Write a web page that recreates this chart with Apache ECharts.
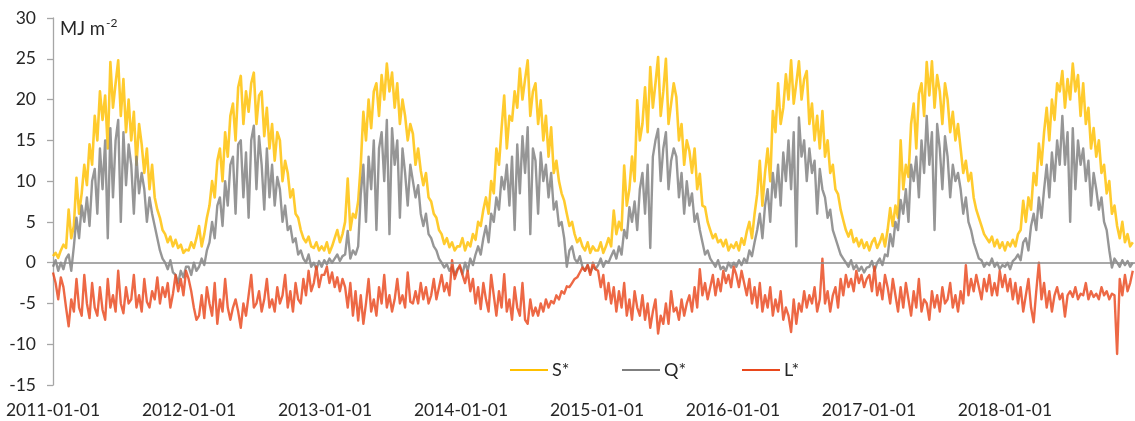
<!DOCTYPE html>
<html>
<head>
<meta charset="utf-8">
<script src="https://cdn.jsdelivr.net/npm/echarts@6/dist/echarts.min.js"></script>
<style>
  html, body { margin: 0; padding: 0; background: #ffffff; }
  #chart { width: 1135px; height: 421px; }
</style>
</head>
<body>
<div id="chart"></div>
<script>
// Weekly radiation balance components (MJ m-2), starting 2011-01-01, one value every 7 days.
const START_YEAR = 2011;
const STEP_DAYS = 7;
const X_MAX_DAYS = 2904;
const Y_TICKS = { min: -15, max: 30, step: 5 };
const SERIES_NAMES = ['S*', 'Q*', 'L*'];

// S* : net shortwave radiation
const sStar = [
  // 2011
  0.8, 1.2, 0.6, 1.5, 2.2, 1.8, 6.5, 3.0, 4.5, 10.4, 6.0, 8.5, 12.0, 9.5, 14.5, 12.0, 18.0,
  15.0, 21.0, 17.5, 20.5, 14.0, 24.6, 19.0, 22.0, 24.8, 18.0, 22.5, 16.0, 20.0,
  15.0, 18.5, 12.0, 17.0, 14.5, 11.0, 14.0, 9.0, 12.0, 8.0, 6.5, 5.5, 4.0,
  3.5, 2.5, 3.2, 2.0, 2.8, 1.8, 2.2, 1.2, 1.6,
  // 2012
  1.5, 2.5, 1.8, 3.0, 4.5, 2.0, 3.5, 5.5, 7.0, 10.0, 8.0, 12.5, 14.0, 10.0, 16.0, 13.0, 18.0,
  19.5, 15.0, 21.5, 22.9, 17.0, 21.0, 18.5, 22.0, 23.3, 17.0, 20.5, 21.0, 15.5,
  19.0, 14.0, 17.0, 12.5, 16.0, 15.0, 10.0, 12.5, 11.0, 8.0, 9.0, 6.0, 5.5,
  4.0, 3.0, 2.5, 3.2, 2.0, 1.8, 2.5, 1.5, 2.0,
  // 2013
  1.5, 2.5, 1.2, 2.0, 3.0, 4.0, 2.5, 3.5, 5.0, 10.3, 4.0, 6.0, 5.5, 7.5, 12.0, 18.5, 15.0,
  20.0, 16.5, 21.0, 22.0, 18.0, 23.0, 20.0, 24.4, 21.0, 23.3, 19.0, 22.0, 17.0,
  20.0, 18.0, 15.0, 17.0, 15.8, 12.0, 14.0, 11.3, 9.5, 11.0, 8.0, 7.5, 6.0,
  5.5, 4.0, 3.5, 2.3, 3.0, 1.9, 2.5, 1.5, 2.0,
  // 2014
  2.0, 3.0, 1.5, 2.5, 2.0, 3.5, 2.8, 5.0, 4.5, 6.5, 8.0, 6.0, 10.0, 8.5, 14.0, 12.0, 16.5,
  20.5, 14.0, 18.0, 17.4, 21.0, 19.0, 23.8, 20.0, 22.5, 24.8, 18.0, 21.0, 22.0,
  17.0, 19.9, 15.0, 18.0, 13.0, 16.6, 11.0, 12.5, 10.0, 8.5, 7.6, 6.0, 4.5,
  5.0, 3.5, 2.5, 3.0, 2.0, 1.5, 2.5, 1.2, 2.0, 1.5,
  // 2015
  1.5, 2.5, 1.2, 2.0, 3.0, 2.0, 6.4, 3.5, 5.0, 4.0, 11.9, 7.0, 9.0, 13.0, 10.0, 19.9, 15.0,
  17.0, 21.5, 16.0, 24.0, 19.0, 22.0, 25.2, 18.0, 21.0, 25.0, 17.0, 19.5, 22.0,
  20.3, 15.0, 17.0, 12.0, 15.0, 13.7, 11.0, 14.0, 9.0, 10.9, 7.0, 6.8, 5.0,
  4.0, 3.0, 3.5, 2.5, 2.8, 2.0, 2.8, 1.5, 2.2,
  // 2016
  1.8, 2.5, 1.5, 3.0, 2.2, 3.8, 5.0, 3.0, 6.0, 8.4, 12.5, 7.0, 11.0, 14.0, 10.0, 18.6, 16.0,
  22.0, 17.0, 19.0, 23.1, 20.0, 24.8, 19.5, 22.0, 24.7, 20.0, 22.5, 23.5, 17.0,
  19.5, 15.0, 18.0, 14.0, 18.6, 13.0, 15.0, 11.0, 12.0, 9.0, 8.4, 6.5, 5.2,
  4.0, 3.2, 4.0, 2.5, 3.0, 2.0, 2.8, 1.8, 2.5,
  // 2017
  1.5, 2.5, 3.0, 1.8, 2.5, 3.5, 2.0, 4.0, 6.7, 4.5, 7.0, 5.5, 15.0, 9.0, 12.0, 10.5, 17.0,
  19.5, 14.0, 20.7, 22.0, 18.0, 24.6, 20.5, 24.7, 19.0, 23.0, 21.0, 17.0, 22.0,
  20.0, 16.0, 18.5, 15.0, 17.0, 14.0, 11.0, 12.5, 10.0, 11.0, 8.0, 6.5, 5.5,
  4.5, 3.5, 3.0, 2.5, 3.2, 2.0, 2.8, 1.8, 2.5,
  // 2018
  1.5, 2.5, 2.0, 2.8, 2.0, 3.5, 4.0, 7.6, 5.0, 8.0, 6.5, 11.0, 9.5, 14.6, 12.0, 16.0, 19.0,
  15.0, 20.0, 17.5, 22.0, 21.0, 23.5, 19.0, 22.5, 20.0, 24.4, 21.0, 23.0, 18.0,
  22.0, 17.0, 19.0, 14.0, 16.5, 13.0, 15.0, 11.0, 12.0, 8.5, 10.0, 6.0, 7.0,
  4.5, 3.0, 5.0, 2.5, 3.5, 2.0, 2.5
];

// Q* : net all-wave radiation
const qStar = [
  // 2011
  -0.5, 0.3, -1.0, 0.0, -0.8, 0.5, 1.0, -1.0, 2.0, 5.5, 3.0, 7.0, 5.0, 8.0, 4.5, 10.0, 11.5,
  6.0, 14.0, 9.0, 15.0, 3.0, 16.5, 8.0, 15.0, 17.5, 5.0, 16.0, 9.5, 14.5,
  12.0, 6.0, 13.0, 8.5, 11.0, 9.0, 5.0, 8.0, 6.0, 4.5, 3.0, 1.5, 0.5,
  0.0, -0.8, 0.3, -1.2, -1.5, -2.5, -1.0, -1.8, -0.5,
  // 2012
  -0.5, -1.5, 0.0, -1.0, -0.5, 0.5, -0.3, 1.5, 2.5, 5.0, 3.0, 7.0, 8.0, 4.5, 10.0, 7.0, 12.0,
  13.0, 6.0, 14.5, 15.0, 8.0, 13.5, 5.5, 15.0, 16.8, 9.0, 15.5, 12.0, 6.5,
  14.0, 8.0, 12.0, 7.0, 10.5, 9.0, 5.0, 7.0, 4.0, 4.5, 2.5, 3.0, 1.0,
  1.5, 0.5, 0.0, 1.0, -0.5, 0.0, -0.8, 0.2, -0.5,
  // 2013
  0.3, -0.2, 0.5, 0.0, 0.5, 1.0, 0.2, 0.8, 1.0, 3.9, 0.5, 1.5, 1.0, 2.0, 8.4, 12.0, 5.0,
  13.0, 9.0, 15.0, 4.0, 14.0, 16.0, 10.0, 17.5, 3.5, 16.5, 12.0, 15.0, 5.5,
  14.0, 11.0, 7.0, 12.0, 10.0, 8.0, 9.5, 6.0, 4.5, 6.0, 3.5, 3.0, 2.0,
  1.5, 0.5, 0.0, -0.6, -0.2, -1.0, -0.5, -1.5, -0.8,
  // 2014
  -0.5, -1.4, 0.0, -1.0, 0.5, -0.3, 1.0, 2.0, 1.0, 3.0, 4.5, 2.5, 6.0, 5.0, 8.0, 6.5, 10.5,
  9.0, 12.0, 7.0, 13.0, 4.0, 14.5, 8.5, 15.5, 11.0, 16.6, 3.5, 14.0, 12.5,
  6.0, 13.5, 10.0, 12.0, 8.0, 11.0, 6.5, 7.5, 4.5, 5.0, 3.0, -0.5, 1.5,
  2.0, 0.5, 0.0, 0.8, -0.5, -1.0, -0.3, -1.2, -0.5, -0.8,
  // 2015
  -0.3, 0.5, -0.5, 0.2, 0.0, 0.8, 1.5, 0.5, 2.0, 1.0, 4.0, 3.0, 6.8, 5.0, 7.5, 4.0, 9.0,
  11.0, 6.0, 12.0, 1.8, 13.0, 15.0, 16.4, 10.0, 14.0, 16.0, 9.0, 12.5, 14.0,
  13.0, 8.0, 11.0, 6.0, 10.0, 7.0, 8.5, 5.0, 6.0, 4.0, 2.5, 1.0, 1.5,
  0.5, 0.0, -0.5, 0.3, -0.8, -0.5, -1.0, 0.0, -0.6,
  // 2016
  0.0, -0.5, 0.3, -0.3, 0.5, 0.0, 1.5, 0.8, 2.5, 4.0, 6.0, 3.0, 7.0, 9.0, 5.0, 11.0, 8.0,
  12.0, 7.0, 13.5, 10.0, 15.0, 9.0, 16.0, 2.0, 17.8, 13.0, 15.0, 10.0, 14.0,
  11.0, 12.5, 6.0, 11.5, 9.0, 8.0, 5.5, 6.5, 4.0, 3.0, 2.0, 1.0, 0.5,
  0.0, -0.5, 0.3, -0.8, -0.3, -1.0, -0.5, -1.2, -0.6,
  // 2017
  -0.5, 0.2, -1.0, 0.0, 0.5, -0.3, 1.0, 0.8, 3.5, 2.0, 5.0, 4.0, 7.7, 6.0, 9.0, 5.0, 12.0,
  10.0, 13.0, 8.0, 15.0, 11.0, 18.0, 12.0, 16.0, 4.0, 17.0, 14.0, 9.0, 15.5,
  13.0, 8.0, 12.0, 10.0, 11.0, 9.0, 6.0, 8.0, 5.0, 4.0, 2.5, 1.5, 0.5,
  0.3, -0.5, 0.0, -0.3, 0.5, -0.5, 0.0, -0.8, -0.3,
  // 2018
  -0.5, 0.0, -0.8, 0.2, 0.5, 1.0, 0.3, 2.5, 3.0, 1.5, 4.5, 6.0, 4.0, 8.0, 5.5, 9.0, 12.0,
  8.0, 13.5, 10.0, 15.0, 12.0, 18.0, 12.0, 16.0, 5.0, 16.5, 9.0, 15.0, 12.0,
  14.0, 10.0, 12.5, 7.0, 11.0, 9.0, 6.5, 8.0, 5.0, 4.0, 1.5, -0.6, 0.5,
  0.0, -0.5, 0.3, -0.3, 0.2, -0.5, 0.0
];

// L* : net longwave radiation
const lStar = [
  // 2011
  -1.2, -2.5, -4.5, -1.8, -3.0, -5.5, -7.8, -4.5, -6.0, -2.0, -5.5, -6.5, -1.5, -5.0, -6.8, -2.5, -5.5,
  -6.5, -3.0, -5.8, -7.0, -2.0, -5.5, -4.0, -6.0, -1.0, -5.0, -6.2, -3.0, -5.0,
  -4.5, -1.5, -5.5, -4.0, -6.0, -2.0, -4.8, -5.5, -3.5, -4.5, -1.8, -5.0, -3.0,
  -4.2, -2.5, -5.5, -3.8, -1.5, -3.5, -2.0, -4.0, -1.0,
  // 2012
  -2.0, -3.5, -5.5, -7.0, -6.5, -4.0, -6.8, -3.0, -5.0, -6.5, -2.5, -7.5, -4.5, -6.0, -2.0, -5.5, -7.0,
  -5.5, -4.5, -6.0, -8.0, -5.0, -6.5, -4.0, -1.5, -5.5, -5.0, -3.5, -6.0, -4.5,
  -2.0, -5.5, -4.5, -6.0, -3.0, -5.0, -4.0, -1.5, -5.5, -3.5, -6.0, -2.5, -4.5,
  -5.0, -2.0, -4.0, -1.0, -3.5, -2.5, -0.5, -3.0, -1.5,
  // 2013
  -1.5, -0.5, -2.5, -1.2, -3.0, -1.8, -3.5, -2.0, -3.0, -5.5, -2.5, -6.5, -3.5, -7.1, -4.0, -7.5, -5.0,
  -2.0, -6.0, -4.5, -6.5, -3.0, -5.0, -1.5, -5.5, -4.0, -6.0, -4.5, -2.0, -5.0,
  -4.0, -5.5, -1.2, -4.8, -5.0, -3.5, -5.0, -2.5, -4.5, -3.0, -5.0, -4.0, -2.0,
  -4.5, -3.0, -1.5, -3.5, -2.5, -4.0, 0.3, -2.0, -1.0,
  // 2014
  -0.3, -1.5, -2.5, -1.0, -3.5, -2.0, -5.0, -3.0, -5.7, -2.5, -4.5, -6.0, -1.5, -4.0, -6.5, -3.5, -5.5,
  -1.4, -6.0, -4.5, -7.0, -3.0, -5.5, -6.5, -2.5, -7.0, -7.5, -4.5, -6.5, -5.5,
  -6.5, -5.0, -6.0, -4.5, -5.5, -4.7, -5.0, -4.0, -4.5, -3.5, -3.8, -2.9, -3.0,
  -2.5, -2.0, -1.8, -1.2, -0.6, -1.0, -0.3, -1.5, 0.0, -0.8,
  // 2015
  -1.0, -3.0, -1.5, -4.5, -2.5, -5.0, -3.0, -6.0, -3.5, -5.5, -2.5, -6.5, -4.5, -7.0, -3.5, -5.5, -6.5,
  -4.0, -7.0, -5.0, -8.0, -6.0, -4.5, -8.7, -6.5, -7.5, -5.0, -7.5, -3.5, -6.0,
  -5.5, -7.0, -4.5, -6.5, -5.0, -4.0, -6.0, -3.0, -5.5, -0.8, -4.0, -2.5, -4.5,
  -3.0, -1.5, -4.0, -2.0, -3.5, -1.0, -2.5, -1.5, -3.0,
  // 2016
  -0.5, -1.5, -3.0, -1.0, -2.5, -4.0, -2.0, -5.0, -3.0, -5.5, -2.5, -6.0, -4.0, -5.5, -3.0, -6.5, -4.5,
  -6.0, -3.5, -7.0, -5.5, -6.5, -8.5, -4.5, -7.5, -5.0, -6.0, -3.5, -5.5, -4.0,
  -5.0, -3.0, -6.0, -4.5, 0.5, -5.0, -3.5, -6.0, -4.0, -3.0, -5.5, -2.0, -4.0,
  -1.5, -3.0, -2.0, -3.5, -1.0, -2.5, -1.5, -3.0, -2.0,
  // 2017
  -1.5, -3.5, -0.5, -4.0, -2.5, -4.5, -1.5, -3.0, -5.0, -2.0, -4.0, -6.0, -3.0, -5.5, -2.5, -4.5, -6.5,
  -3.5, -5.5, -2.0, -6.0, -4.5, -5.0, -7.0, -3.5, -5.5, -4.0, -6.0, -3.0, -5.0,
  -4.5, -2.5, -5.5, -4.0, -6.0, -3.5, -5.0, -0.3, -4.0, -2.0, -3.5, -1.5, -3.0,
  -4.5, -2.0, -3.5, -1.5, -4.0, -2.5, -4.0, -1.0, -3.0,
  // 2018
  -1.5, -3.5, -2.0, -4.5, -2.5, -5.0, -3.0, -6.0, -4.0, -2.0, -5.5, -7.3, -3.5, 0.0, -4.5, -2.5, -5.5,
  -3.5, -6.0, -4.0, -3.0, -4.5, -3.8, -6.6, -4.0, -3.5, -4.2, -3.0, -4.5, -3.8,
  -4.0, -2.5, -4.5, -3.5, -4.2, -3.8, -4.5, -3.0, -4.0, -3.5, -4.5, -3.8, -4.0,
  -11.2, -2.0, -4.0, -1.5, -3.5, -2.5, -1.0
];

const COLORS = { 'S*': '#FFC000', 'Q*': '#7F7F7F', 'L*': '#E9471C' };
const WIDTHS = { 'S*': 2.6, 'Q*': 2.4, 'L*': 2.4 };
const FONT = 'Lato, "Open Sans", sans-serif';

// Pair each value with its day offset from 1 January 2011.
function toPoints(values) {
  return values.map((v, i) => [i * STEP_DAYS, v]);
}

const chart = echarts.init(document.getElementById('chart'), null, { renderer: 'canvas' });

function lineSeries(name, values, extra) {
  return Object.assign({
    name: name,
    type: 'line',
    data: toPoints(values),
    symbol: 'none',
    showSymbol: false,
    animation: false,
    lineStyle: { color: COLORS[name], width: WIDTHS[name], opacity: 0.82, join: 'round' },
    itemStyle: { color: COLORS[name] },
    emphasis: { disabled: true }
  }, extra || {});
}

function legendAt(name, left) {
  return {
    data: [name],
    left: left,
    top: 356,
    itemWidth: 38,
    itemHeight: 16,
    itemGap: 4,
    icon: 'path://M0,7 L38,7 L38,9 L0,9 Z',
    textStyle: { fontFamily: FONT, fontSize: 18, color: '#262626', padding: [0, 0, 0, -1] },
    selectedMode: false
  };
}

chart.setOption({
  backgroundColor: '#ffffff',
  animation: false,
  grid: { left: 53, right: 0, top: 18, bottom: 36, containLabel: false },
  xAxis: {
    type: 'value',
    min: 0,
    max: X_MAX_DAYS,
    interval: 365,
    axisLine: { show: false, onZero: false },
    axisTick: { show: false },
    splitLine: { show: false },
    axisLabel: {
      margin: 16,
      fontFamily: FONT,
      fontSize: 17.5,
      color: '#262626',
      showMaxLabel: false,
      formatter: v => (START_YEAR + Math.round(v / 365.25)) + '-01-01'
    }
  },
  yAxis: {
    type: 'value',
    min: Y_TICKS.min,
    max: Y_TICKS.max,
    interval: Y_TICKS.step,
    axisLine: { show: true, onZero: false, lineStyle: { color: '#A6A6A6', width: 1.3 } },
    axisTick: { show: true, length: 6, lineStyle: { color: '#A6A6A6', width: 1.3 } },
    splitLine: { show: false },
    axisLabel: { margin: 17, fontFamily: FONT, fontSize: 17.5, color: '#262626' }
  },
  legend: [legendAt('S*', 505), legendAt('Q*', 617), legendAt('L*', 737)],
  graphic: [{
    type: 'text',
    left: 60,
    top: 17,
    style: {
      text: '{b|MJ m}{s|-2}',
      rich: {
        b: { fontFamily: FONT, fontSize: 18.5, fill: '#262626', verticalAlign: 'bottom', lineHeight: 22 },
        s: { fontFamily: FONT, fontSize: 12, fill: '#262626', verticalAlign: 'top', lineHeight: 22, padding: [0, 0, 9, 1] }
      }
    }
  }],
  series: [
    lineSeries('S*', sStar),
    lineSeries('Q*', qStar),
    lineSeries('L*', lStar, {
      markLine: {
        silent: true,
        symbol: 'none',
        animation: false,
        label: { show: false },
        lineStyle: { color: '#8C8C8C', width: 1.5, type: 'solid' },
        data: [{ yAxis: 0 }]
      }
    })
  ]
});
</script>
</body>
</html>
